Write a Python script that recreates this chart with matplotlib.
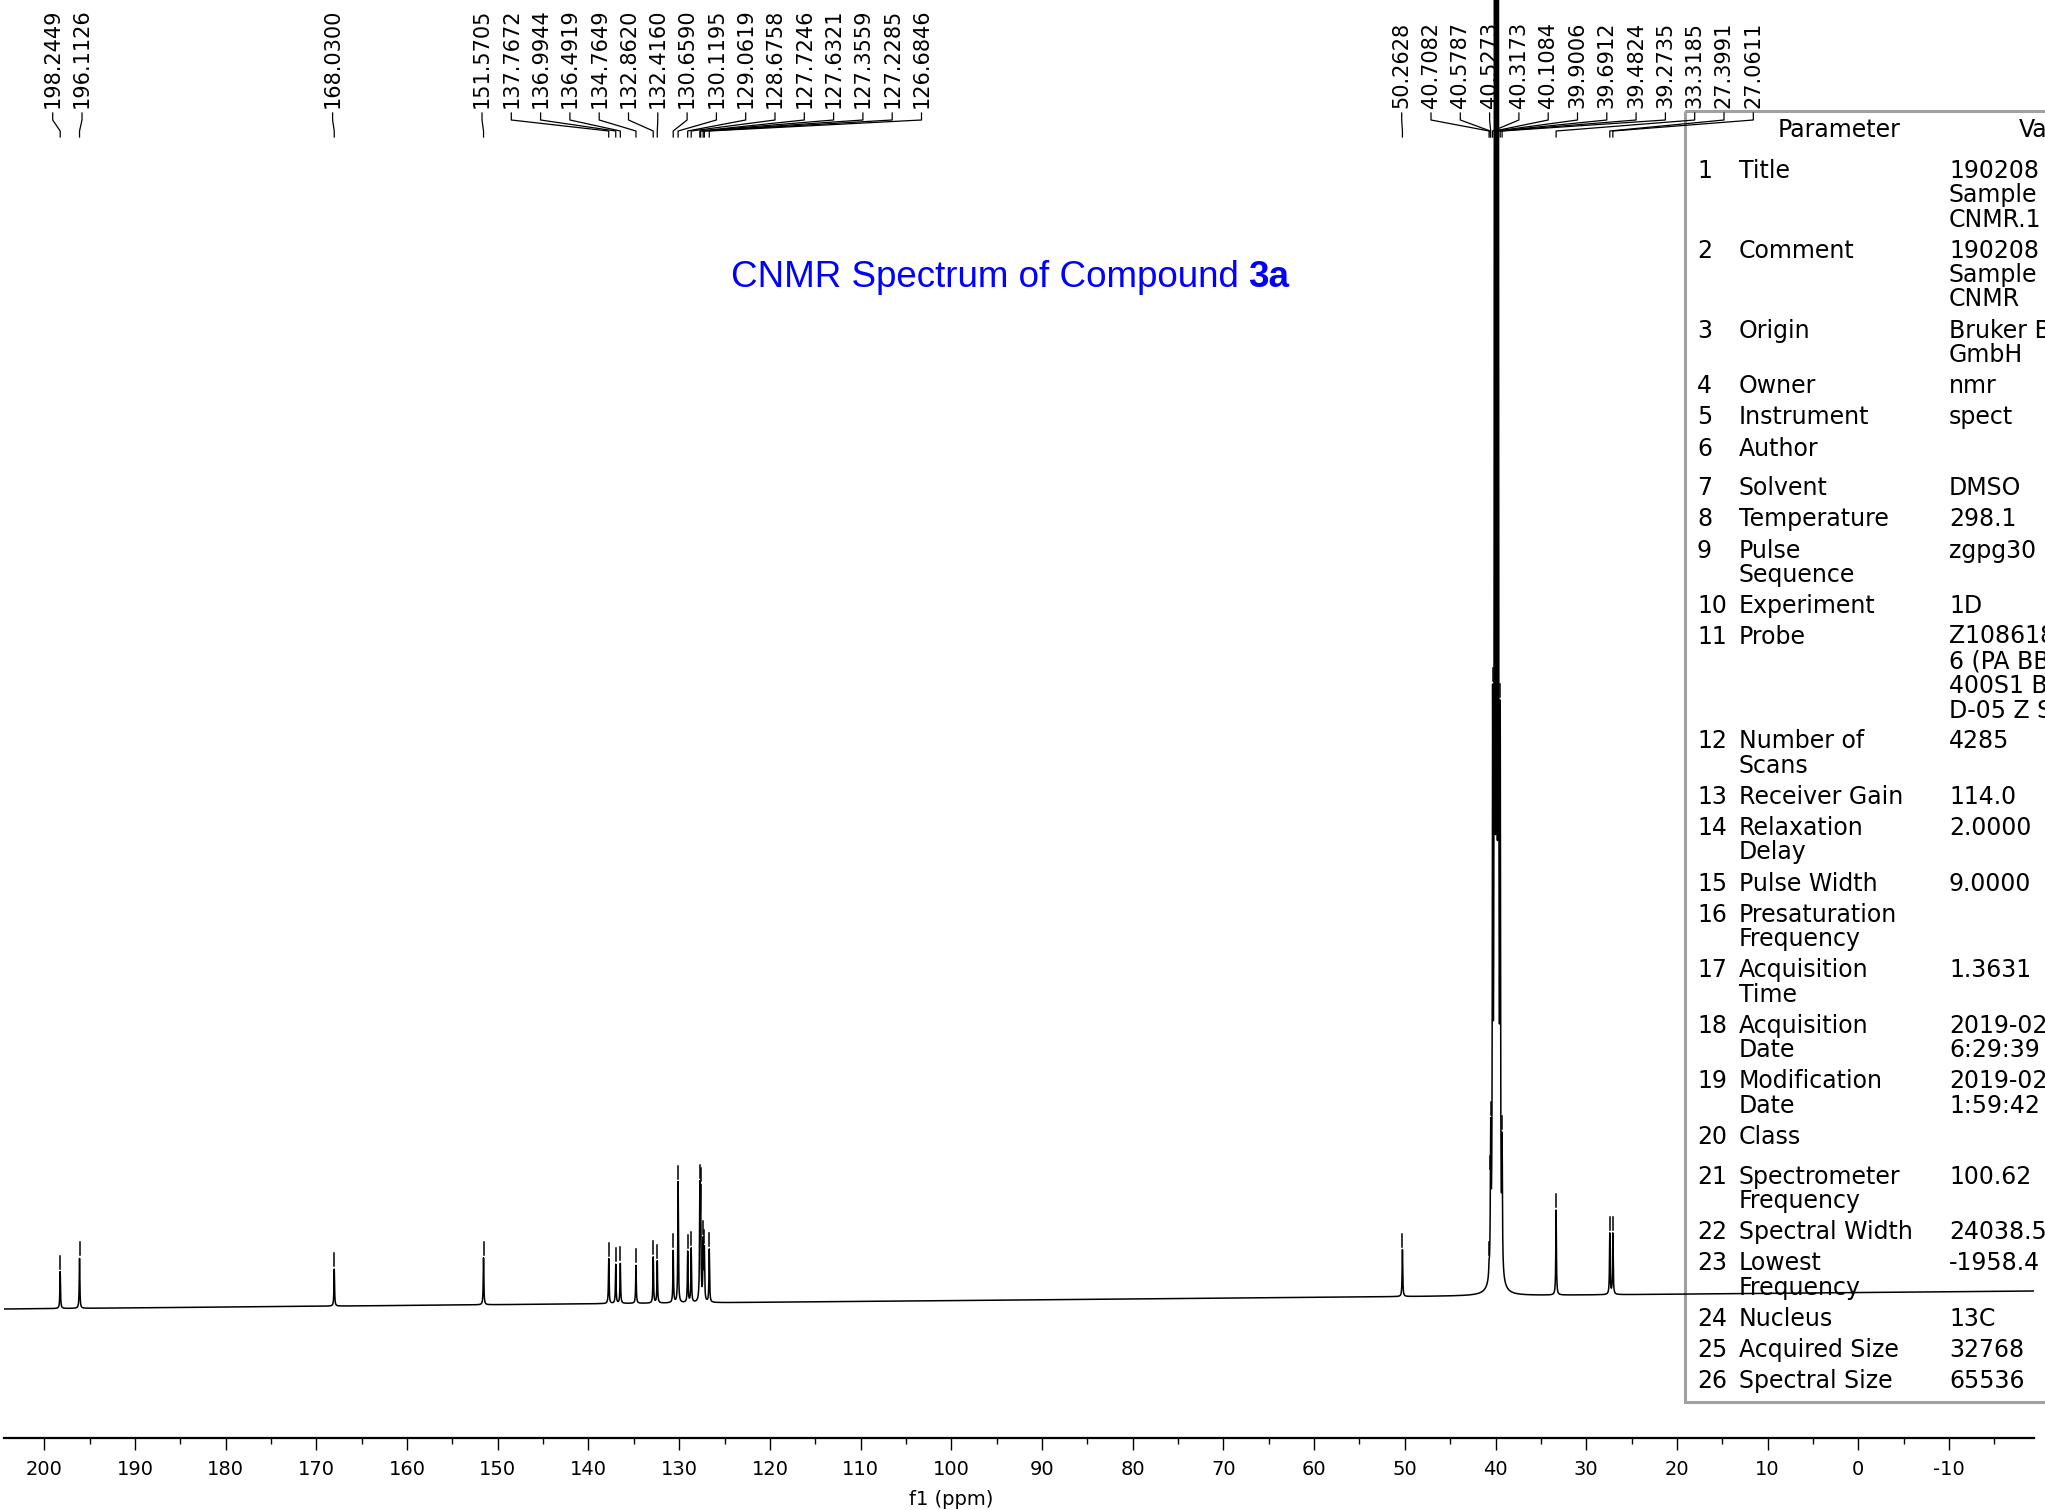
import matplotlib
matplotlib.use("Agg")
import matplotlib.pyplot as plt
from matplotlib.lines import Line2D
from matplotlib.patches import Rectangle
from matplotlib.transforms import Affine2D
from matplotlib.ticker import MultipleLocator
import numpy as np

plt.rcParams['font.family'] = ['DejaVu Sans']
plt.rcParams['axes.unicode_minus'] = False

# --- 1. Data ---
# picked peaks (ppm) and their apparent height above the local baseline
peak_ppm = [198.2449, 196.1126, 168.0300, 151.5705, 137.7672, 136.9944, 136.4919,
            134.7649, 132.8620, 132.4160, 130.6590, 130.1195, 129.0619, 128.6758,
            127.7246, 127.6321, 127.3559, 127.2285, 126.6846, 50.2628, 40.7082,
            40.5787, 40.5273, 40.3173, 40.1084, 39.9006, 39.6912, 39.4824, 39.2735,
            33.3185, 27.3991, 27.0611]
peak_height = [37, 50, 37, 47, 45, 39, 40,
               38, 46, 42, 52, 121, 51, 54,
               105, 100, 58, 50, 53, 47, 10,
               10, 130, 530, 1500, 1800, 1500, 515, 120,
               85, 61, 61]

# baseline drift (two ends of the trace)
baseline_ppm = [-19.4, 204.4]
baseline_level = [12, -6]

param_names = ["Title", "Comment", "Origin", "Owner", "Instrument", "Author", "Solvent",
               "Temperature", "Pulse\nSequence", "Experiment", "Probe", "Number of\nScans",
               "Receiver Gain", "Relaxation\nDelay", "Pulse Width", "Presaturation\nFrequency",
               "Acquisition\nTime", "Acquisition\nDate", "Modification\nDate", "Class",
               "Spectrometer\nFrequency", "Spectral Width", "Lowest\nFrequency", "Nucleus",
               "Acquired Size", "Spectral Size"]
param_values = ["190208\nSample\nCNMR.1", "190208\nSample\nCNMR", "Bruker BioSpin\nGmbH",
                "nmr", "spect", "", "DMSO", "298.1", "zgpg30", "1D",
                "Z108618_063\n6 (PA BBO\n400S1 BBF-H-\nD-05 Z SP)", "4285", "114.0", "2.0000",
                "9.0000", "", "1.3631", "2019-02\n6:29:39", "2019-02\n1:59:42", "",
                "100.62", "24038.5", "-1958.4", "13C", "32768", "65536"]

# --- 2. Figure / axes ---
W, H = 2045, 1510
fig = plt.figure(figsize=(W / 100, H / 100), dpi=100)
ax = fig.add_axes([4 / W, 1 - 1438 / H, 2030 / W, 1438 / H])
ax.set_xlim(204.44, -19.37)
ax.set_ylim(-135, 1303)

# pixel coordinates, origin top-left
pix = Affine2D().scale(1 / W, -1 / H).translate(0, 1) + fig.transFigure

for s in ['left', 'right', 'top']:
    ax.spines[s].set_visible(False)
ax.spines['bottom'].set_linewidth(1.6)
ax.yaxis.set_visible(False)
ax.xaxis.set_major_locator(MultipleLocator(10))
ax.xaxis.set_minor_locator(MultipleLocator(5))
ax.tick_params(axis='x', which='major', length=8.6, width=1.0, labelsize=14, pad=7)
ax.tick_params(axis='x', which='minor', length=4.2, width=1.0)
ax.set_xlabel("f1 (ppm)", fontsize=14, labelpad=2)
ax.xaxis.set_label_coords((951 - 4) / 2030, -0.036)

# --- 3. Spectrum (Lorentzian lines from the peak list) ---
hw = 0.04
ppm = np.linspace(204.44, -19.37, 60000)
spec = np.interp(ppm, baseline_ppm, baseline_level)
for p, h in zip(peak_ppm, peak_height):
    spec = spec + h / (1 + ((ppm - p) / hw) ** 2)
ax.plot(ppm, spec, color='black', lw=1.1, zorder=5)

# peak pick marks
for p in peak_ppm:
    win = np.abs(ppm - p) < 0.02
    top = spec[win].max()
    ax.plot([p, p], [top + 3, top + 16], color='black', lw=1.1, zorder=5)

# --- 4. Peak labels with connectors ---
peak_px = ax.transData.transform(np.column_stack([peak_ppm, np.zeros(len(peak_ppm))]))[:, 0]
clusters = [(0, 2, 52.7), (2, 3, 332.6), (3, 19, 482.0), (19, 32, 1401.7)]
spacing = 29.3
for i0, i1, x0 in clusters:
    for k, i in enumerate(range(i0, i1)):
        lx = x0 + k * spacing
        ax.text(lx, 108, f"{peak_ppm[i]:.4f}", transform=pix, rotation=90,
                ha='center', va='bottom', fontsize=15, zorder=6)
        ax.add_line(Line2D([lx, lx, peak_px[i], peak_px[i]], [113, 120, 131, 137],
                           transform=pix, color='black', lw=0.9, clip_on=False, zorder=6))

# --- 5. Title ---
t1 = ax.text(731, 287, "CNMR Spectrum of Compound", transform=pix, color='#0000FF',
             fontsize=26.5, family='Liberation Sans', va='baseline', ha='left')
r = fig.canvas.get_renderer()
x_end = t1.get_window_extent(r).x1
ax.text(x_end + 9, 287, "3a", transform=pix, color='#0000FF', fontsize=26.5,
        family='Liberation Sans', fontweight='bold', va='baseline', ha='left')

# --- 6. Parameter table ---
ax.add_patch(Rectangle((1685, 111), 420, 1291, transform=pix, fill=False,
                       ec='#a0a0a0', lw=2.2, clip_on=False, zorder=1))
tfs = 17
ax.text(1839, 130, "Parameter", transform=pix, ha='center', va='center', fontsize=tfs, zorder=1)
ax.text(2019, 130, "Value", transform=pix, ha='left', va='center', fontsize=tfs, zorder=1)
line_h = 24.3
y = 171
for n, (name, val) in enumerate(zip(param_names, param_values), start=1):
    nl = name.split("\n")
    vl = val.split("\n") if val else []
    ax.text(1697, y, str(n), transform=pix, ha='left', va='center', fontsize=tfs, zorder=1)
    for j, s in enumerate(nl):
        ax.text(1739, y + j * line_h, s, transform=pix, ha='left', va='center',
                fontsize=tfs, zorder=1)
    for j, s in enumerate(vl):
        ax.text(1949, y + j * line_h, s, transform=pix, ha='left', va='center',
                fontsize=tfs, zorder=1)
    rows = max(len(nl), len(vl) if vl else 1.35)
    y += rows * line_h + 6.9

fig.savefig("out.png", dpi=100)
